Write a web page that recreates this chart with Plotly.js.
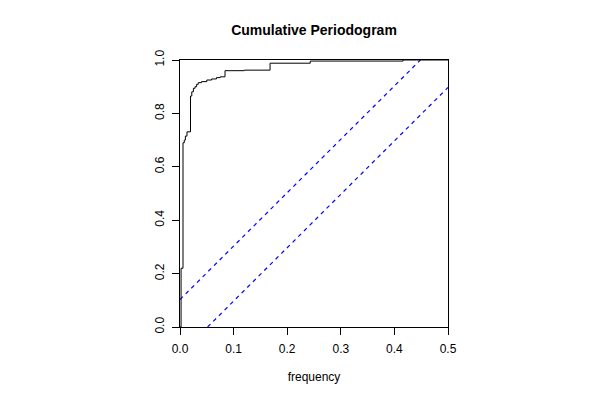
<!DOCTYPE html>
<html>
<head>
<meta charset="utf-8">
<script src="https://cdn.plot.ly/plotly-3.0.1.min.js"></script>
<style>html,body{margin:0;padding:0;background:#fff}#chart{width:600px;height:400px}</style>
</head>
<body>
<div id="chart"></div>
<script>
// Cumulative periodogram (step positions)
const freq = [0, 0.002, 0.0056, 0.008, 0.010, 0.013, 0.0196, 0.022, 0.025, 0.028, 0.031, 0.034, 0.040, 0.050, 0.059, 0.068, 0.075, 0.084, 0.12, 0.168, 0.243, 0.416, 0.5];
const cumPgram = [0, 0.22, 0.69, 0.70, 0.715, 0.731, 0.865, 0.881, 0.894, 0.900, 0.909, 0.915, 0.919, 0.925, 0.929, 0.934, 0.937, 0.960, 0.962, 0.988, 0.996, 1.0, 1.0];
const crit = 0.103;       // Kolmogorov-Smirnov band half-width
const xMax = 0.5;
const xTicks = [0, 0.1, 0.2, 0.3, 0.4, 0.5];
const xTickLabels = ["0.0", "0.1", "0.2", "0.3", "0.4", "0.5"];
const yTicks = [0, 0.2, 0.4, 0.6, 0.8, 1.0];
const yTickLabels = ["0.0", "0.2", "0.4", "0.6", "0.8", "1.0"];

const font = "Liberation Sans, Arial, Helvetica, sans-serif";

const traces = [
  {x: [0, xMax * (1 - crit)], y: [crit, 1], type: "scatter", mode: "lines", line: {color: "rgb(0,0,255)", width: 1.2, dash: "4px,4px"}, hoverinfo: "skip"},
  {x: [xMax * crit, xMax], y: [0, 1 - crit], type: "scatter", mode: "lines", line: {color: "rgb(0,0,255)", width: 1.2, dash: "4px,4px"}, hoverinfo: "skip"},
  {x: freq, y: cumPgram, type: "scatter", mode: "lines", line: {shape: "hv", color: "rgb(0,0,0)", width: 1}, hoverinfo: "skip"}
];

const layout = {
  width: 600, height: 400,
  margin: {l: 180, r: 152, t: 60, b: 73},
  paper_bgcolor: "#fff", plot_bgcolor: "#fff",
  showlegend: false,
  font: {family: font, size: 12, color: "#000"},
  title: {text: "<b>Cumulative Periodogram</b>", font: {family: font, size: 14, color: "#000"}, x: 0.5, xref: "paper", y: 1 - 30/400, yref: "container", yanchor: "middle"},
  xaxis: {
    range: [0, xMax], showgrid: false, zeroline: false,
    showline: true, linecolor: "#000", linewidth: 1, mirror: true,
    ticks: "outside", ticklen: 7, tickcolor: "#000", tickwidth: 1,
    ticklabelstandoff: 4,
    tickvals: xTicks, ticktext: xTickLabels, tickfont: {size: 12},
    title: {text: "frequency", font: {size: 12}, standoff: 17}
  },
  yaxis: {
    range: [0, 1], showgrid: false, zeroline: false,
    showline: true, linecolor: "#000", linewidth: 1, mirror: true,
    ticks: "outside", ticklen: 7, tickcolor: "#000", tickwidth: 1,
    ticklabelstandoff: 3,
    tickvals: yTicks, ticktext: yTickLabels, tickangle: -90, tickfont: {size: 12}
  }
};

Plotly.newPlot("chart", traces, layout, {staticPlot: true, displayModeBar: false});
</script>
</body>
</html>
